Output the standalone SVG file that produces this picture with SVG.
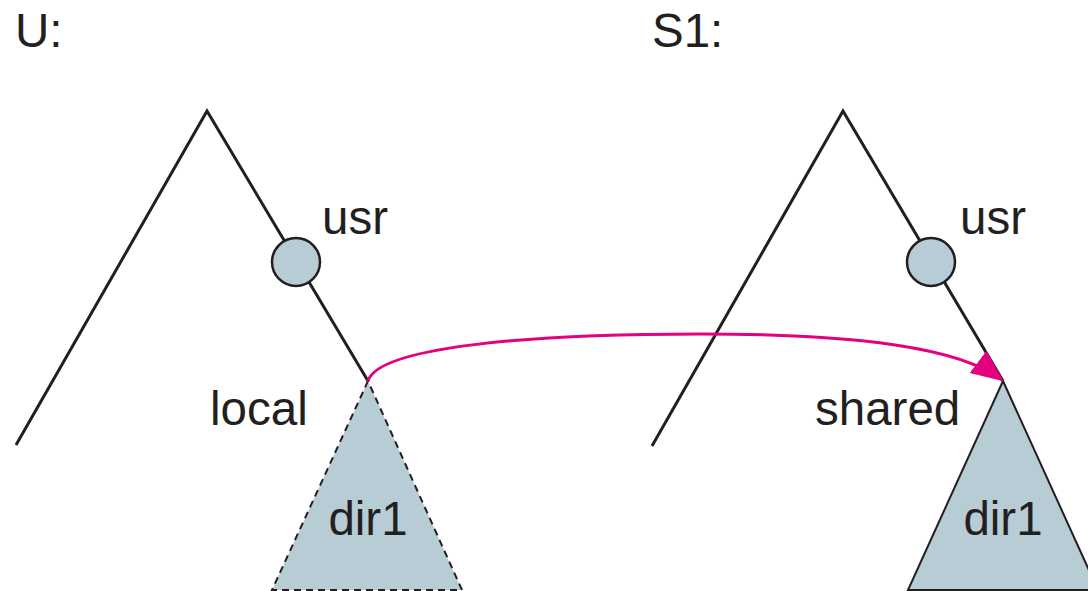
<svg xmlns="http://www.w3.org/2000/svg" width="1088" height="591" viewBox="0 0 1088 591">
<defs>
<style>
.ln{fill:none;stroke:#231f20;stroke-width:3;stroke-linejoin:miter}
.nd{fill:#b8ccd6;stroke:#231f20;stroke-width:2.5}
.tx{font-family:"Liberation Sans",Arial,sans-serif;font-size:47.5px;fill:#231f20}
.lk{fill:none;stroke:#e5007d;stroke-width:3}
</style>
<marker id="ah2" markerWidth="32" markerHeight="28" refX="30" refY="14" orient="auto" markerUnits="userSpaceOnUse" viewBox="0 0 32 28">
<path d="M0,0 L32,14 L0,28 z" fill="#e5007d"/>
</marker>
</defs>
<g id="treeU">
<text class="tx" x="15" y="47">U:</text>
<polyline class="ln" points="16,445 207,111 368,381"/>
</g>
<g id="usrU">
<circle class="nd" cx="296" cy="262" r="24"/>
<text class="tx" x="322" y="234">usr</text>
</g>
<g id="localU">
<text class="tx" x="210" y="425">local</text>
</g>
<g id="dir1U">
<polygon points="368,381 272,590 462,590" fill="#b8ccd6" stroke="#231f20" stroke-width="2" stroke-dasharray="7,5"/>
<text class="tx" x="368" y="535" text-anchor="middle">dir1</text>
</g>
<g id="treeS1">
<text class="tx" x="652" y="47">S1:</text>
<polyline class="ln" points="652,446 843,111 1003,381"/>
</g>
<g id="usrS1">
<circle class="nd" cx="931" cy="262" r="24"/>
<text class="tx" x="960" y="234">usr</text>
</g>
<g id="sharedS1">
<text class="tx" x="815" y="425">shared</text>
</g>
<g id="dir1S1">
<polygon points="1003,381 908,590 1098,590" fill="#b8ccd6" stroke="#231f20" stroke-width="2"/>
<text class="tx" x="1003" y="535" text-anchor="middle">dir1</text>
</g>
<g id="connectors">
<path class="lk" d="M368,381 C378,348 520,334 700,334 C860,334 960,348 1002,380" marker-end="url(#ah2)"/>
</g>
</svg>
